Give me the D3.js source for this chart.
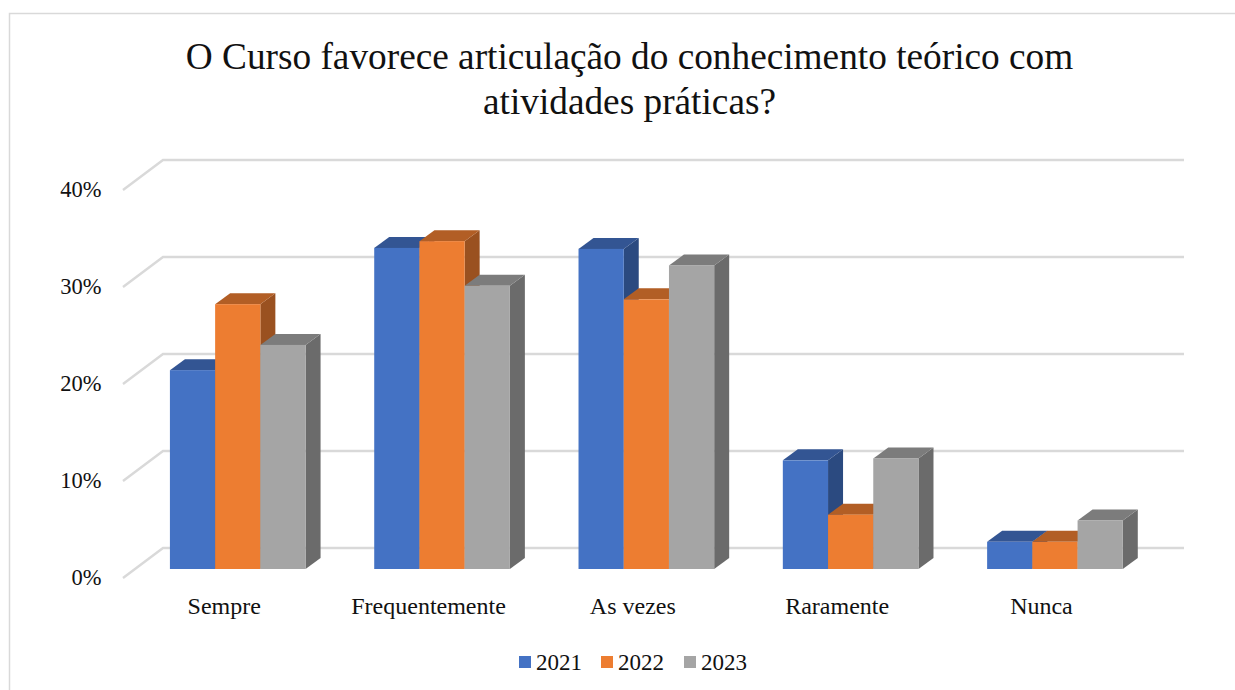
<!DOCTYPE html>
<html><head><meta charset="utf-8">
<script src="https://cdn.jsdelivr.net/npm/d3@7"></script>
<style>html,body{margin:0;padding:0;background:#fff}svg{display:block}text{font-family:"Liberation Serif",serif;fill:#111}</style>
</head><body><svg id="c" width="1235" height="690"></svg>
<script>
const titleLines=["O Curso favorece articulação do conhecimento teórico com","atividades práticas?"];
const categories=["Sempre","Frequentemente","As vezes","Raramente","Nunca"];
const years=["2021","2022","2023"];
const v2021=[20.5,33.1,33.0,11.2,2.8];
const v2022=[27.3,33.8,27.8,5.6,2.8];
const v2023=[23.1,29.2,31.3,11.4,5.0];
const seriesValues=[v2021,v2022,v2023];
const yTicks=[0,10,20,30,40];
const frontCol=["#4472C4","#ED7D31","#A5A5A5"];
const topCol=["#335593","#B25E25","#7C7C7C"];
const sideCol=["#2B4A80","#9A5120","#6B6B6B"];

const svg=d3.select("#c");
svg.append("path").attr("d","M9.5,690V13.5H1235").attr("fill","none").attr("stroke","#d9d9d9").attr("stroke-width",1.5);
svg.selectAll("text.t").data(titleLines).join("text").attr("class","t")
  .attr("x",629.5).attr("y",(d,i)=>69+i*45).attr("text-anchor","middle").attr("font-size",37.3).text(d=>d);

const y=d3.scaleLinear().domain([0,40]).range([578,190]);
const yBar=d3.scaleLinear().domain([0,40]).range([569,181]);
const x0=d3.scaleBand().domain(categories).range([136,1156.7]).paddingInner(0.336).paddingOuter(0.166);
const x1=d3.scaleBand().domain(years).range([0,x0.bandwidth()]);
const wall={dx:40,dy:-30,right:1184};
const bar={dx:15,dy:-11};

const g=svg.append("g");
yTicks.forEach(t=>{
  const yy=y(t);
  g.append("path").attr("d",`M123,${yy}L${123+wall.dx},${yy+wall.dy}H${wall.right}`)
    .attr("fill","none").attr("stroke","#d9d9d9").attr("stroke-width",2.4);
  g.append("text").attr("x",101.5).attr("y",yy+7).attr("text-anchor","end").attr("font-size",22.5).text(t+"%");
});

categories.forEach((c,ci)=>{
  years.forEach((yr,si)=>{
    const l=x0(c)+x1(yr), w=x1.bandwidth(), r=l+w, t=yBar(seriesValues[si][ci]), b=yBar(0);
    const G=g.append("g");
    G.append("path").attr("fill",sideCol[si]).attr("d",`M${r},${t}l${bar.dx},${bar.dy}V${b+bar.dy}L${r},${b}Z`);
    G.append("path").attr("fill",topCol[si]).attr("d",`M${l},${t}l${bar.dx},${bar.dy}H${r+bar.dx}L${r},${t}Z`);
    G.append("rect").attr("x",l).attr("y",t).attr("width",w).attr("height",b-t).attr("fill",frontCol[si]);
  });
  g.append("text").attr("x",x0(c)+x0.bandwidth()/2-13.5).attr("y",614).attr("text-anchor","middle").attr("font-size",24).text(c);
});

const legX=d3.scaleOrdinal().domain(years).range([519,601,684]);
years.forEach((yr,i)=>{
  svg.append("rect").attr("x",legX(yr)).attr("y",656).attr("width",12).attr("height",12).attr("fill",frontCol[i]);
  svg.append("text").attr("x",legX(yr)+17).attr("y",670).attr("font-size",23).text(yr);
});
</script></body></html>
